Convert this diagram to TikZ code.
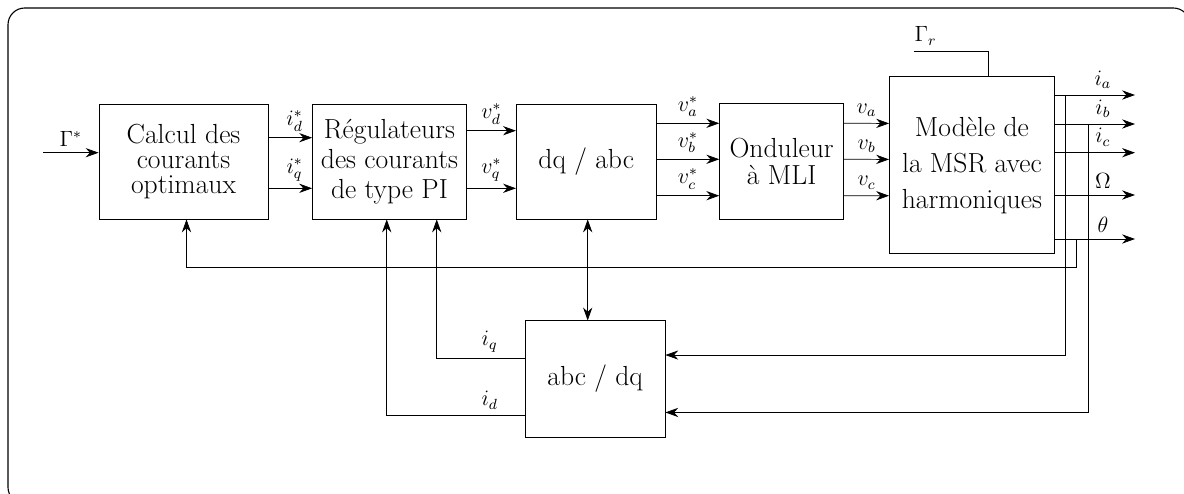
\documentclass[tikz,border=0pt]{standalone}
\usepackage{amsmath,amssymb}
\usetikzlibrary{arrows.meta,positioning,calc}

\begin{document}
\begin{tikzpicture}[x=0.0191cm,y=0.0191cm,every node/.style={font=\large},
 box/.style={draw,align=center,inner sep=2pt,minimum height=2.2cm,font=\fontsize{15}{13.6}\selectfont},
 arr/.style={-{Stealth[length=7pt,width=5pt]}}]
\useasboundingbox (0,0) rectangle (1184,494);
\draw[rounded corners=0.32cm,line width=0.6pt] (8,486) rectangle (1190,-10);
% chain of blocks
\node[box,minimum width=3.23cm] (calc) at (183.5,332.5) {Calcul des\\courants\\optimaux};
\node[box,minimum width=2.94cm,right=0.835cm of calc,font=\fontsize{15}{16.2}\selectfont] (reg) {Régulateurs\\des courants\\de type PI};
\node[box,minimum width=2.67cm,right=0.94cm of reg] (dqabc) {dq / abc};
\node[box,minimum width=2.37cm,minimum height=2.22cm,right=1.2cm of dqabc,font=\fontsize{15}{15}\selectfont] (ond) {Onduleur\\à MLI};
\node[box,minimum width=3.15cm,minimum height=3.38cm,right=0.86cm of ond,yshift=-0.073cm,font=\fontsize{15}{19.5}\selectfont] (msr) {Modèle de\\la MSR avec\\harmoniques};
\node[box,minimum width=2.67cm,minimum height=2.22cm,below=1.93cm of dqabc,xshift=0.17cm] (abcdq) {abc / dq};
% free ends
\coordinate (gin) at (43,341.3);
\coordinate (gr) at (914.3,442.3);
\coordinate (oa) at (1135,399);
\coordinate (ob) at (1135,370);
\coordinate (oc) at (1135,341.3);
\coordinate (ow) at (1135,299);
\coordinate (ot) at (1135,255);
\coordinate (fa) at (1065,399);
\coordinate (fb) at (1088.3,370);
\coordinate (ft) at (1076,255);
\coordinate (jn) at (587.7,226.3);
% forward path
\draw[arr] (gin) -- node[above]{$\Gamma^*$} (calc.west |- gin);
\draw[arr] ($(calc.east)+(0,23.8)$) -- node[above,pos=0.6]{$i_d^*$} ($(reg.west)+(0,23.8)$);
\draw[arr] ($(calc.east)+(0,-26.8)$) -- node[above,pos=0.6]{$i_q^*$} ($(reg.west)+(0,-26.8)$);
\draw[arr] ($(reg.east)+(0,30.8)$) -- node[above]{$v_d^*$} ($(dqabc.west)+(0,30.8)$);
\draw[arr] ($(reg.east)+(0,-26.8)$) -- node[above]{$v_q^*$} ($(dqabc.west)+(0,-26.8)$);
\draw[arr] ($(dqabc.east)+(0,38.2)$) -- node[above]{$v_a^*$} ($(ond.west)+(0,38.2)$);
\draw[arr] ($(dqabc.east)+(0,2.2)$) -- node[above]{$v_b^*$} ($(ond.west)+(0,2.2)$);
\draw[arr] ($(dqabc.east)+(0,-34.2)$) -- node[above]{$v_c^*$} ($(ond.west)+(0,-34.2)$);
\draw[arr] ($(ond.east)+(0,38.2)$) -- node[above]{$v_a$} ($(msr.west)+(0,41.9)$);
\draw[arr] ($(ond.east)+(0,2.2)$) -- node[above]{$v_b$} ($(msr.west)+(0,5.9)$);
\draw[arr] ($(ond.east)+(0,-34.2)$) -- node[above]{$v_c$} ($(msr.west)+(0,-30.4)$);
\draw (gr) node[above right,inner xsep=0pt]{$\Gamma_r$} -| ($(msr.north)+(16.9,0)$);
% outputs
\draw[arr] (msr.east |- oa) -- node[above,pos=0.6]{$i_a$} (oa);
\draw[arr] (msr.east |- ob) -- node[above,pos=0.6]{$i_b$} (ob);
\draw[arr] (msr.east |- oc) -- node[above,pos=0.6]{$i_c$} (oc);
\draw[arr] (msr.east |- ow) -- node[above,pos=0.6]{$\Omega$} (ow);
\draw[arr] (msr.east |- ot) -- node[above,pos=0.6]{$\theta$} (ot);
% feedback
\draw[arr] (fa) |- ($(abcdq.east)+(0,23.9)$);
\draw[arr] (fb) |- ($(abcdq.east)+(0,-33.5)$);
\draw[arr] (ft) |- (jn) -| ($(calc.south)+(3,0)$);
\draw[arr] (jn) -- (jn |- dqabc.south);
\draw[arr] (jn) -- (jn |- abcdq.north);
\draw[arr] ($(abcdq.west)+(0,20.5)$) -| node[above,pos=0.2]{$i_q$} ($(reg.south)+(47.3,0)$);
\draw[arr] ($(abcdq.west)+(0,-36.8)$) -| node[above,pos=0.127]{$i_d$} ($(reg.south)+(-2.7,0)$);
\end{tikzpicture}
\end{document}
